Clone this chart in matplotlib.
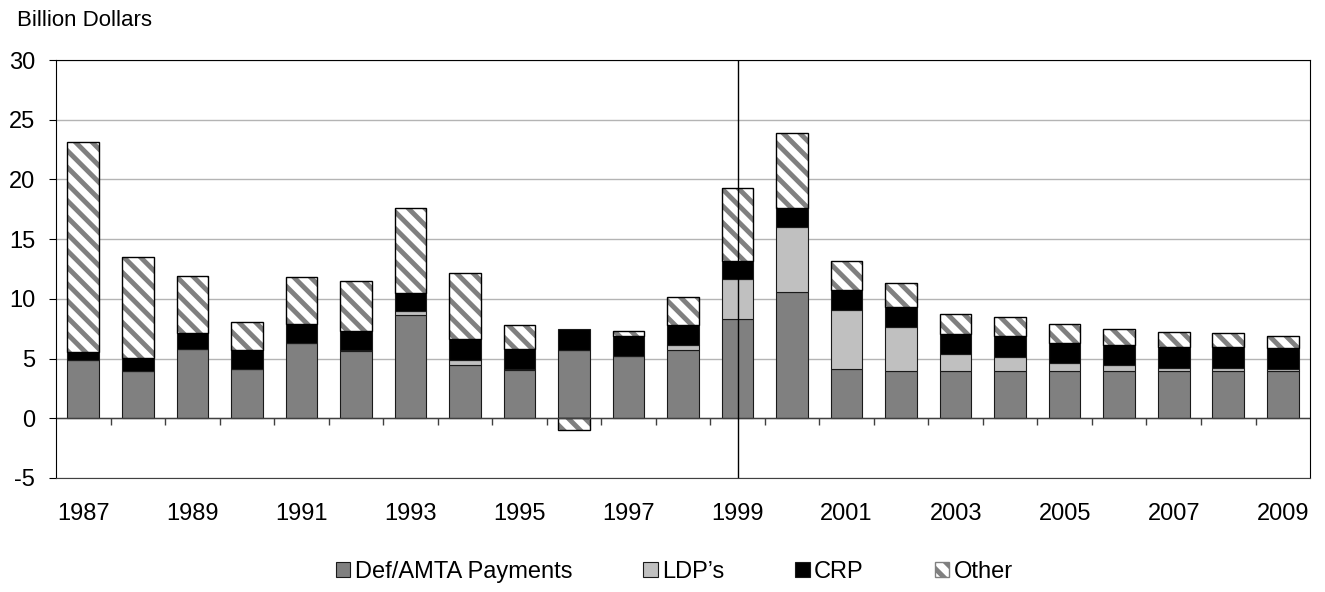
import numpy as np
import matplotlib.pyplot as plt

plt.rcParams['font.family'] = ['Liberation Sans', 'DejaVu Sans']
plt.rcParams['hatch.linewidth'] = 3.5
plt.rcParams['axes.unicode_minus'] = False

years = list(range(1987, 2010))
def_amta = [4.85, 4.0, 5.8, 4.15, 6.3, 5.6, 8.65, 4.45, 4.05, 5.75, 5.2, 5.75,
            8.35, 10.6, 4.1, 4.0, 4.0, 4.0, 4.0, 4.0, 4.0, 4.0, 4.0]
ldp = [0.0, 0.0, 0.0, 0.0, 0.0, 0.1, 0.35, 0.4, 0.05, 0.0, 0.0, 0.35,
       3.3, 5.4, 5.0, 3.65, 1.4, 1.15, 0.6, 0.5, 0.2, 0.2, 0.15]
crp = [0.7, 1.05, 1.35, 1.6, 1.6, 1.65, 1.5, 1.8, 1.7, 1.7, 1.7, 1.7,
       1.55, 1.6, 1.6, 1.65, 1.65, 1.75, 1.7, 1.65, 1.75, 1.75, 1.7]
other = [17.6, 8.45, 4.75, 2.3, 3.9, 4.15, 7.15, 5.5, 2.0, -1.0, 0.4, 2.35,
         6.1, 6.3, 2.5, 2.0, 1.65, 1.55, 1.6, 1.35, 1.3, 1.2, 1.05]

x = np.arange(len(years))
d = np.array(def_amta)
l = np.array(ldp)
c = np.array(crp)
o = np.array(other)
w = 0.58

fig = plt.figure(figsize=(13.25, 5.92), dpi=100)
ax = fig.add_axes([0.0423, 0.1926, 0.9464, 0.706])

ax.set_axisbelow(True)
ax.grid(axis='y', color='#b4b4b4', lw=1)

ax.bar(x, d, w, color='#808080', edgecolor='#1a1a1a', lw=0.8, label='Def/AMTA Payments')
ax.bar(x, l, w, bottom=d, color='#c0c0c0', edgecolor='#1a1a1a', lw=0.8, label="LDP\u2019s")
ax.bar(x, c, w, bottom=d + l, color='black', edgecolor='#1a1a1a', lw=0.8, label='CRP')
# negative "other" hangs below zero
ob = np.where(o < 0, 0, d + l + c)
ax.bar(x, o, w, bottom=ob, color='white', edgecolor='#808080', lw=0, hatch='\\\\')
ax.bar(x, o, w, bottom=ob, color='none', edgecolor='black', lw=1.0)
# legend proxy for the hatched series
ax.bar([0], [0], 0, color='white', edgecolor='#808080', hatch='\\\\', label='Other')

ax.axhline(0, color='#404040', lw=1)
ax.vlines(x[:-1] + 0.5, -0.55, 0, color='#404040', lw=1)
ax.axvline(years.index(1999), color='black', lw=1)

ax.set_xlim(-0.5, len(years) - 0.5)
ax.set_ylim(-5, 30)
ax.set_yticks(np.arange(-5, 31, 5))
ax.set_xticks(x[::2])
ax.set_xticklabels([str(y) for y in years[::2]])
ax.tick_params(axis='x', length=0, pad=18, labelsize=17)
ax.tick_params(axis='y', length=5, pad=10, labelsize=17)
for s in ['top', 'left', 'right']:
    ax.spines[s].set_color('black')
ax.spines['bottom'].set_color('#404040')

fig.text(0.013, 1 - 20 / 592, 'Billion Dollars', fontsize=16, va='center')

h, lb = ax.get_legend_handles_labels()
fig.legend(h, lb, loc='center', bbox_to_anchor=(0.509, 0.034), ncol=4, frameon=False,
           fontsize=17, handlelength=0.6, handleheight=0.6, handletextpad=0.2,
           columnspacing=3.0)

fig.savefig('out.png', dpi=100)
